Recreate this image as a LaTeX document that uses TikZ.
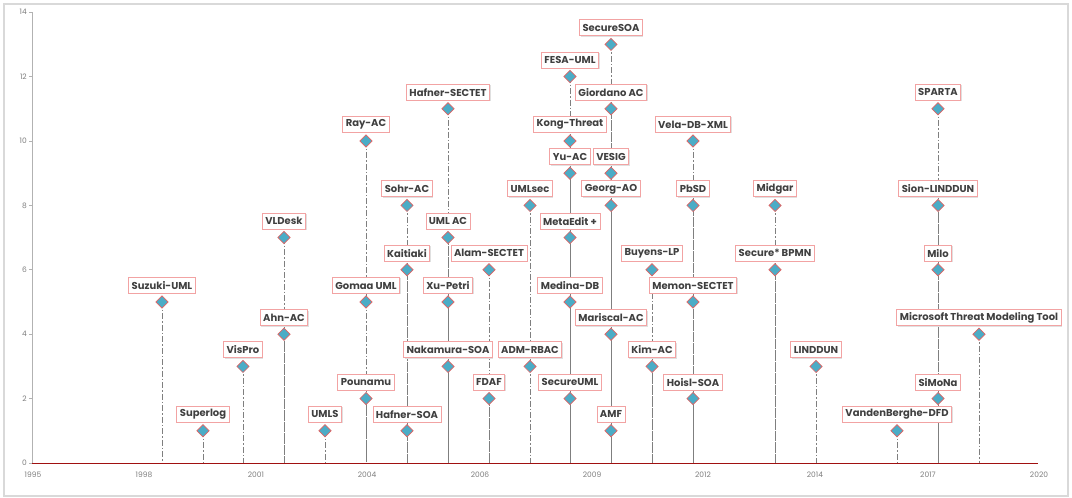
\documentclass[tikz,border=0pt]{standalone}
\usepackage{fontspec}
\setmainfont{Poppins}
\usetikzlibrary{shapes.geometric,shadows}
\definecolor{teal1}{HTML}{4BACC6}
\definecolor{mred}{HTML}{E06464}
\definecolor{boxborder}{HTML}{F2A3A3}
\definecolor{txt}{HTML}{404040}
\definecolor{ticktxt}{HTML}{7F7F7F}
\definecolor{axred}{HTML}{A01010}
\definecolor{frame}{HTML}{D9D9D9}
\definecolor{drop}{HTML}{7F7F7F}
\tikzset{
  marker/.style={diamond,draw=mred,fill=teal1,line width=0.7pt,minimum width=12.5pt,minimum height=12.5pt,inner sep=0pt},
  lbl/.style={draw=boxborder,fill=white,line width=0.8pt,text=txt,font=\fontsize{10}{11}\selectfont\bfseries,
     minimum height=16pt,inner xsep=3pt,inner ysep=1pt,
     general shadow={shadow xshift=1pt,shadow yshift=-1pt,fill=black!12}},
  dropline/.style={draw=drop,line width=0.8pt,dash pattern=on 6pt off 2pt on 1.5pt off 2pt},
  ticklbl/.style={text=ticktxt,font=\fontsize{7.5}{8}\selectfont,inner sep=1pt},
}
\begin{document}
\begin{tikzpicture}[x=1pt,y=1pt]
\useasboundingbox (0,0) rectangle (1072,498);
\fill[white] (0,0) rectangle (1072,498);
\draw[frame,line width=1.6pt] (4,2) rectangle (1068,494);
% axes
\coordinate (yb) at (32,35);
\coordinate (yt) at (32,486);
\draw[black!30,line width=0.8pt] (yb) -- (yt);
\foreach \v in {0,2,...,14}{
  \draw[black!30,line width=0.6pt] (29,35+32.2*\v) -- (32,35+32.2*\v);
  \node[ticklbl,anchor=east] (yt\v) at (28,35+32.2*\v) {\v};
}
\foreach \x/\t in {33/1995,144/1998,256/2001,367/2004,480/2006,592/2009,703/2012,815/2014,928/2017,1039/2020}{
  \node[ticklbl] (xt\t) at (\x,23) {\t};
}
% data
\def\pts{162/5/Suzuki-UML,203/1/Superlog,243/3/VisPro,284/4/Ahn-AC,284/7/VLDesk,325/1/UMLS,
366/2/Pounamu,366/5/Gomaa UML,366/10/Ray-AC,407/1/Hafner-SOA,407/6/Kaitiaki,407/8/Sohr-AC,
448/3/Nakamura-SOA,448/5/Xu-Petri,448/7/UML AC,448/11/Hafner-SECTET,489/2/FDAF,489/6/Alam-SECTET,
530/3/ADM-RBAC,530/8/UMLsec,570/2/SecureUML,570/5/Medina-DB,570/7/MetaEdit +,570/9/Yu-AC,
570/10/Kong-Threat,570/12/FESA-UML,611/1/AMF,611/4/Mariscal-AC,611/8/Georg-AO,611/9/VESIG,
611/11/Giordano AC,611/13/SecureSOA,652/3/Kim-AC,652/6/Buyens-LP,693/2/Hoisl-SOA,693/5/Memon-SECTET,
693/8/PbSD,693/10/Vela-DB-XML,775/6/Secure* BPMN,775/8/Midgar,816/3/LINDDUN,897/1/VandenBerghe-DFD,
938/2/SiMoNa,938/6/Milo,938/8/Sion-LINDDUN,938/11/SPARTA,979/4/Microsoft Threat Modeling Tool}
\foreach \x/\v/\t [count=\i] in \pts {
  \coordinate (a\i) at (\x,35);
  \coordinate (p\i) at (\x,35+32.2*\v);
  \draw[dropline] (p\i) -- (a\i);
}
\coordinate (xl) at (32,35);
\coordinate (xr) at (1038,35);
\draw[axred,line width=0.9pt] (xl) -- (xr);
\foreach \x/\v/\t [count=\i] in \pts {
  \node[marker] (m\i) at (p\i) {};
}
\foreach \x/\v/\t [count=\i] in \pts {
  \node[lbl] (l\i) at ([yshift=16.5pt]p\i) {\t};
}
\end{tikzpicture}
\end{document}
